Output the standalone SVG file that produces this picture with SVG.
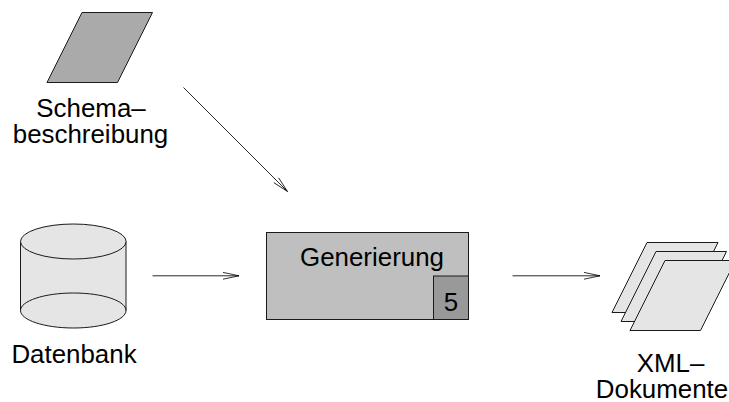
<svg xmlns="http://www.w3.org/2000/svg" width="729" height="402" viewBox="0 0 729 402">
<defs>
<marker id="arrow" markerUnits="userSpaceOnUse" markerWidth="18" markerHeight="12" refX="16" refY="6" orient="auto" overflow="visible">
<path d="M0 2.600L16 6L0 9.400" fill="none" stroke="#000" stroke-width="0.8"/>
</marker>
</defs>
<style>
text{font-family:"Liberation Sans",Arial,sans-serif;font-size:25.9px;fill:#000;text-anchor:middle}
.s{stroke:#1a1a1a;stroke-width:1}
.l{fill:#e5e5e5}
.c{fill:none;stroke:#111;stroke-width:0.9;marker-end:url(#arrow)}
</style>
<rect width="729" height="402" fill="#fff"/>
<g id="connectors">
<line class="c" x1="183.500" y1="87.500" x2="287.500" y2="191.500"/>
<line class="c" x1="152.500" y1="275.800" x2="239" y2="275.800"/>
<line class="c" x1="512.500" y1="275.800" x2="600" y2="275.800"/>
</g>
<g id="schema">
<path class="s" fill="#aaa" d="M82 12.500H152.500L117.500 82.500H47Z"/>
<text x="91" y="117">Schema–</text>
<text x="90.500" y="143">beschreibung</text>
</g>
<g id="datenbank">
<path class="s l" d="M20.500 241.500V310.500C20.500 320 44 328 73.500 328S126 320 126 310.500V241.500Z"/>
<ellipse class="s l" cx="73.300" cy="241.500" rx="52.800" ry="17.500"/>
<path class="s" fill="none" d="M20.500 310.500C20.500 301 44 293 73.500 293S126 301 126 310.500"/>
<text x="74" y="363">Datenbank</text>
</g>
<g id="generierung">
<rect class="s" fill="#bfbfbf" x="266.500" y="232.500" width="202" height="87"/>
<rect class="s" fill="#999" x="433.500" y="276" width="35" height="43.500"/>
<text x="372" y="266">Generierung</text>
<text x="451" y="311">5</text>
</g>
<g id="xml">
<path class="s l" d="M647 242.500H718L683 312.500H612Z"/>
<path class="s l" d="M656 251.500H726.500L691.500 321.500H621Z"/>
<path class="s l" d="M665 260.500H735.500L700.500 330.500H630Z"/>
<text x="670.500" y="372">XML–</text>
<text x="662" y="398">Dokumente</text>
</g>
</svg>
